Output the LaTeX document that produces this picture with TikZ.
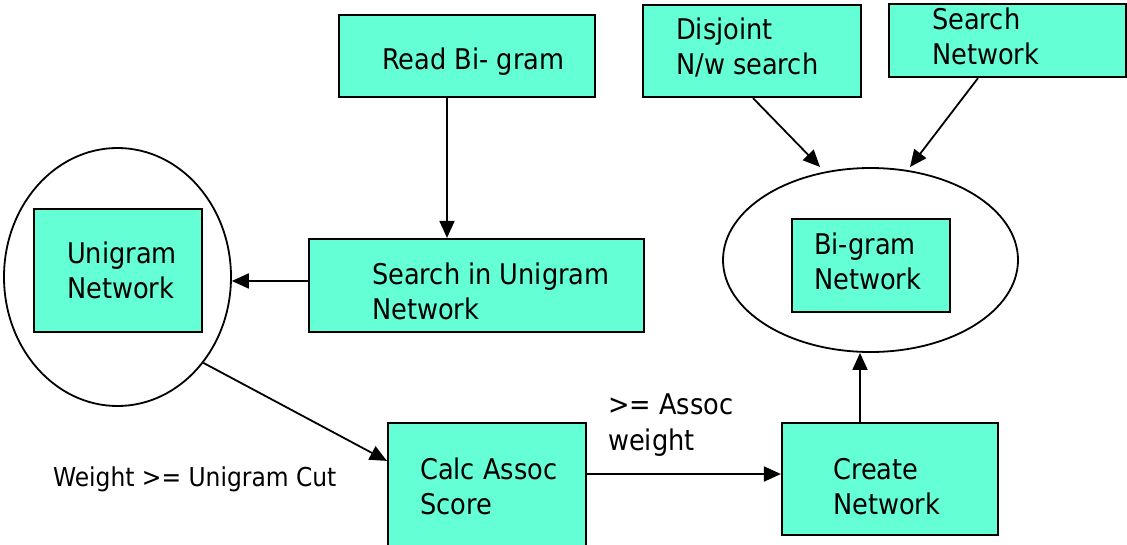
\documentclass[tikz,border=0pt]{standalone}
\usepackage{fontspec}
\setmainfont{DejaVu Sans Condensed}
\usetikzlibrary{arrows.meta,shapes.geometric}

\definecolor{boxfill}{RGB}{100,255,212}

\tikzset{
  netbox/.style={draw=black, line width=2.2pt, fill=boxfill, inner sep=0pt},
  nettext/.style={anchor=west, inner sep=0pt, align=left,
    font=\fontsize{28.5}{35}\selectfont},
  netring/.style={draw=black, shape=ellipse, line width=1.8pt, inner sep=0pt},
  flow/.style={line width=1.8pt, -{Triangle[length=17pt,width=15pt]}},
}

\begin{document}
\begin{tikzpicture}[x=1pt,y=-1pt]
\useasboundingbox (0,0) rectangle (1127,544);
% rings round the two networks
\node[netring, minimum width=227pt, minimum height=258pt] (uniring) at (117.5,277) {};
\node[netring, minimum width=295pt, minimum height=184pt] (biring) at (870.5,260) {};
% boxes: name/centre x/centre y/width/height/text left/text middle/text
\foreach \nm/\cx/\cy/\w/\h/\tx/\ty/\lab in {%
  read/467/56/256/82/382/62/{Read Bi- gram},%
  search/476.5/285.5/335/93/372/291.5/{Search in Unigram\\Network},%
  unigram/118/270.5/168/123/67/270.5/{Unigram\\Network},%
  disjoint/752/51/218/92/676/47/{Disjoint\\N/w search},%
  searchnw/1007.5/40.5/237/73/932/36.5/{Search\\Network},%
  bigram/871/265.5/158/93/814/261.5/{Bi-gram\\Network},%
  calc/487/485.5/198/125/420/486.5/{Calc Assoc\\Score},%
  create/890/479/216/112/833/486.5/{Create\\Network}}{%
  \node[netbox, minimum width=\w pt, minimum height=\h pt] (\nm) at (\cx,\cy) {};
  \node[nettext] (\nm-txt) at (\tx,\ty) {\lab};
}
% edge labels
\node[nettext, font=\fontsize{26}{35}\selectfont] (cutlabel) at (53,479) {Weight >= Unigram Cut};
\node[nettext, font=\fontsize{28.5}{36}\selectfont] (assoclabel) at (608,425) {>= Assoc\\weight};
% end points off the node centres
\coordinate (readout) at ([xshift=-20pt]read.south);
\coordinate (calcin) at ([yshift=-39pt]calc.north west);
\coordinate (createin) at ([yshift=5pt]create.west);
\coordinate (createout) at ([xshift=-30pt]create.north);
\coordinate (ringin-a) at (820,167);
\coordinate (ringin-b) at (910,167);
% connectors
\draw[flow] (readout) -- (readout |- search.north);
\draw[flow] (search.west |- uniring.-2) -- (uniring.-2);
\draw[flow] (uniring.-45) -- (calcin);
\draw[flow] (createin -| calc.east) -- (createin);
\draw[flow] (createout) -- (createout |- biring.south);
\draw[flow] ([xshift=1pt]disjoint.south) -- (ringin-a);
\draw[flow] ([xshift=-29.5pt]searchnw.south) -- (ringin-b);
\end{tikzpicture}
\end{document}
